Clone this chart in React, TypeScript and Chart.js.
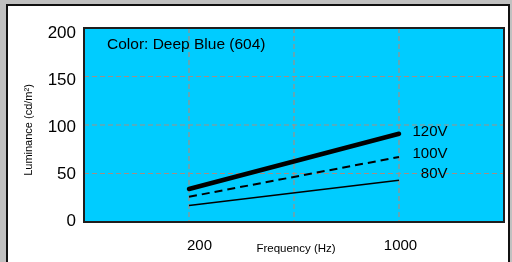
import React, { useEffect, useRef } from "react";
import { Chart, registerables } from "chart.js";

Chart.register(...registerables);

const frequencies = [200, 1000];
const lum120 = [34, 91];
const lum100 = [26, 67];
const lum80 = [17, 43];
const seriesNames = ["120V", "100V", "80V"];
const seriesLabelY = [93, 70, 49.5];
const seriesLabelX = 1185;
const yTickValues = [0, 50, 100, 150, 200];
const xTickValues = [200, 1000];
const xGridValues = [200, 600, 1000];
const yGridValues = [50, 100, 150];
const chartTitle = "Color: Deep Blue (604)";
const xTitle = "Frequency (Hz)";
const yTitle = "Luminance (cd/m\u00B2)";

const FONT = "Arial, 'Liberation Sans', sans-serif";
const GRID = "#a08f86";

export default function App() {
  const ref = useRef<HTMLCanvasElement | null>(null);

  useEffect(() => {
    const canvas = ref.current;
    if (!canvas) return;

    const decor = {
      id: "decor",
      beforeDatasetsDraw(chart: any) {
        const { ctx, chartArea: a, scales } = chart;
        ctx.save();
        ctx.fillStyle = "#00ccff";
        ctx.fillRect(a.left, a.top, a.right - a.left, a.bottom - a.top);
        ctx.strokeStyle = GRID;
        ctx.lineWidth = 1.2;
        ctx.setLineDash([5, 3]);
        xGridValues.forEach((v) => {
          const px = scales.x.getPixelForValue(v);
          ctx.beginPath();
          ctx.moveTo(px, a.top);
          ctx.lineTo(px, a.bottom);
          ctx.stroke();
        });
        yGridValues.forEach((v) => {
          const py = scales.y.getPixelForValue(v);
          ctx.beginPath();
          ctx.moveTo(a.left, py);
          ctx.lineTo(a.right, py);
          ctx.stroke();
        });
        ctx.restore();
      },
      afterDraw(chart: any) {
        const { ctx, chartArea: a, scales } = chart;
        ctx.save();
        ctx.strokeStyle = "#1e1e1e";
        ctx.lineWidth = 2;
        ctx.strokeRect(a.left, a.top, a.right - a.left, a.bottom - a.top);
        ctx.fillStyle = "#000";
        ctx.font = `15.5px ${FONT}`;
        ctx.textBaseline = "middle";
        ctx.textAlign = "left";
        ctx.fillText(chartTitle, a.left + 23, a.top + 17);
        ctx.font = `15px ${FONT}`;
        ctx.textAlign = "right";
        seriesNames.forEach((n, i) => {
          ctx.fillText(n, scales.x.getPixelForValue(seriesLabelX), scales.y.getPixelForValue(seriesLabelY[i]));
        });
        ctx.font = `11.5px ${FONT}`;
        ctx.textAlign = "center";
        ctx.fillText(xTitle, (a.left + a.right) / 2 + 2, a.bottom + 27);
        ctx.translate(29, (a.top + a.bottom) / 2 + 5);
        ctx.rotate(-Math.PI / 2);
        ctx.font = `11px ${FONT}`;
        ctx.fillText(yTitle, 0, 0);
        ctx.restore();
      },
    };

    const mk = (ys: number[]) => frequencies.map((f, i) => ({ x: f, y: ys[i] }));

    const chart = new Chart(canvas, {
      type: "line",
      data: {
        datasets: [
          { label: "120V", data: mk(lum120), borderColor: "#000", borderWidth: 4.5, borderCapStyle: "round", pointRadius: 0, xAxisID: "x", yAxisID: "y" },
          { label: "100V", data: mk(lum100), borderColor: "#000", borderWidth: 2, borderDash: [8, 5], pointRadius: 0, xAxisID: "x", yAxisID: "y" },
          { label: "80V", data: mk(lum80), borderColor: "#000", borderWidth: 1.5, pointRadius: 0, xAxisID: "x", yAxisID: "y" },
        ],
      },
      options: {
        animation: false,
        responsive: false,
        maintainAspectRatio: false,
        layout: { padding: { left: 0, top: 28, right: 8, bottom: 0 } },
        plugins: { legend: { display: false }, tooltip: { enabled: false } },
        scales: {
          x: {
            type: "linear",
            position: "bottom",
            min: -200,
            max: 1400,
            ticks: { display: false },
            grid: { display: false, drawTicks: false },
            border: { display: false },
            afterFit: (s: any) => { s.height = 0; },
          },
          xLabels: {
            type: "linear",
            position: "bottom",
            min: -259.7,
            max: 1411.9,
            afterBuildTicks: (s: any) => { s.ticks = xTickValues.map((v) => ({ value: v })); },
            ticks: { color: "#000", font: { size: 15, family: FONT }, padding: 15, maxRotation: 0, autoSkip: false, callback: (v: any) => String(v) },
            grid: { display: false, drawTicks: false },
            border: { display: false },
            afterFit: (s: any) => { s.height = 40; },
          },
          y: {
            type: "linear",
            position: "left",
            min: 0,
            max: 200,
            ticks: { display: false },
            grid: { display: false, drawTicks: false },
            border: { display: false },
            afterFit: (s: any) => { s.width = 0; },
          },
          yLabels: {
            type: "linear",
            position: "left",
            min: -1.07,
            max: 206.2,
            afterBuildTicks: (s: any) => { s.ticks = yTickValues.map((v) => ({ value: v })); },
            ticks: { color: "#000", font: { size: 17, family: FONT }, padding: 8, autoSkip: false, callback: (v: any) => String(v) },
            grid: { display: false, drawTicks: false },
            border: { display: false },
            afterFit: (s: any) => { s.width = 84; },
          },
        },
      } as any,
      plugins: [decor],
    });

    return () => chart.destroy();
  }, []);

  return (
    <div style={{ position: "fixed", left: 0, top: 0, width: 512, height: 262, background: "#c0c0c0", overflow: "hidden" }}>
      <div
        style={{
          position: "absolute",
          left: 6,
          top: 4,
          width: 500,
          height: 270,
          background: "#fff",
          borderLeft: "2px solid #111",
          borderTop: "2px solid #111",
          borderRight: "2px solid #111",
        }}
      />
      <canvas ref={ref} width={512} height={262} style={{ position: "absolute", left: 0, top: 0, width: 512, height: 262 }} />
    </div>
  );
}
